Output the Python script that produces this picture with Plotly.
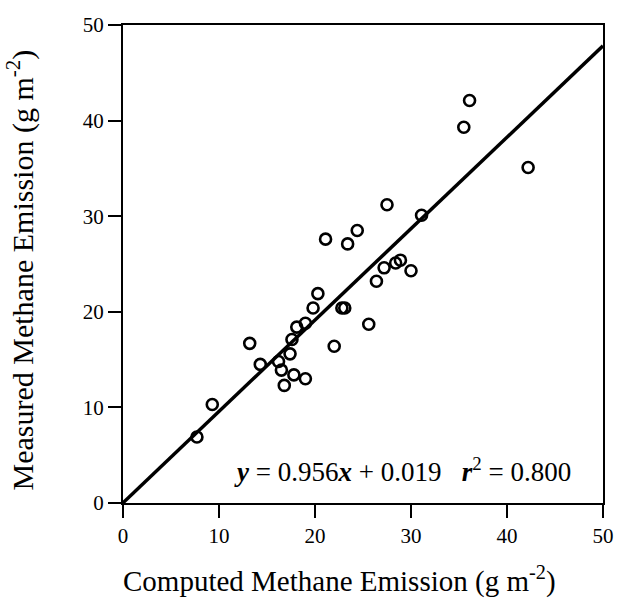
import plotly.graph_objects as go

computed = [7.7, 9.3, 13.2, 14.3, 16.2, 16.5, 16.8, 17.4, 17.6, 17.8, 18.1, 19.0, 19.0,
            19.8, 20.3, 21.1, 22.0, 22.8, 23.1, 23.4, 24.4, 25.6, 26.4, 27.2, 27.5,
            28.4, 28.9, 30.0, 31.1, 35.5, 36.1, 42.2]
measured = [6.9, 10.3, 16.7, 14.5, 14.8, 13.9, 12.3, 15.6, 17.1, 13.4, 18.4, 18.8, 13.0,
            20.4, 21.9, 27.6, 16.4, 20.4, 20.4, 27.1, 28.5, 18.7, 23.2, 24.6, 31.2,
            25.1, 25.4, 24.3, 30.1, 39.3, 42.1, 35.1]
slope = 0.956
intercept = 0.019
fit_x = [0, 50]
fit_y = [slope * v + intercept for v in fit_x]
tick_vals = [0, 10, 20, 30, 40, 50]

FONT = "Liberation Serif"

fig = go.Figure()
fig.add_trace(go.Scatter(x=fit_x, y=fit_y, mode="lines",
                         line=dict(color="black", width=3.5), showlegend=False))
fig.add_trace(go.Scatter(x=computed, y=measured, mode="markers",
                         marker=dict(symbol="circle-open", size=11, color="black",
                                     line=dict(width=2.6, color="black")),
                         showlegend=False))

axis_common = dict(range=[0, 50], tickvals=tick_vals, showgrid=False, zeroline=False,
                   showline=True, linecolor="black", linewidth=2, mirror=True,
                   ticks="outside", ticklen=13, tickwidth=2, tickcolor="black",
                   automargin=False,
                   tickfont=dict(family=FONT, size=21, color="black"))
fig.update_xaxes(**axis_common)
fig.update_yaxes(**axis_common)

fig.add_annotation(text="Computed Methane Emission (g m<sup>-2</sup>)",
                   xref="paper", yref="paper", x=0.45, y=-0.16,
                   xanchor="center", yanchor="middle",
                   showarrow=False, font=dict(family=FONT, size=29, color="black"))
fig.add_annotation(text="Measured Methane Emission (g m<sup>-2</sup>)",
                   xref="paper", yref="paper", x=-0.214, y=0.487, textangle=-90,
                   xanchor="center", yanchor="middle",
                   showarrow=False, font=dict(family=FONT, size=30, color="black"))
fig.add_annotation(text="<b><i>y</i></b> = 0.956<b><i>x</i></b> + 0.019   <b><i>r</i></b><sup>2</sup> = 0.800",
                   xref="x", yref="y", x=46.9, y=3.5, xanchor="right",
                   showarrow=False, font=dict(family=FONT, size=27, color="black"))

fig.update_layout(width=618, height=608, margin=dict(l=123, r=15, t=25, b=105),
                  plot_bgcolor="white", paper_bgcolor="white",
                  font=dict(family=FONT, color="black"))

fig.write_html("out.html", config={"displayModeBar": False},
               post_script="document.body.style.margin='0';")
